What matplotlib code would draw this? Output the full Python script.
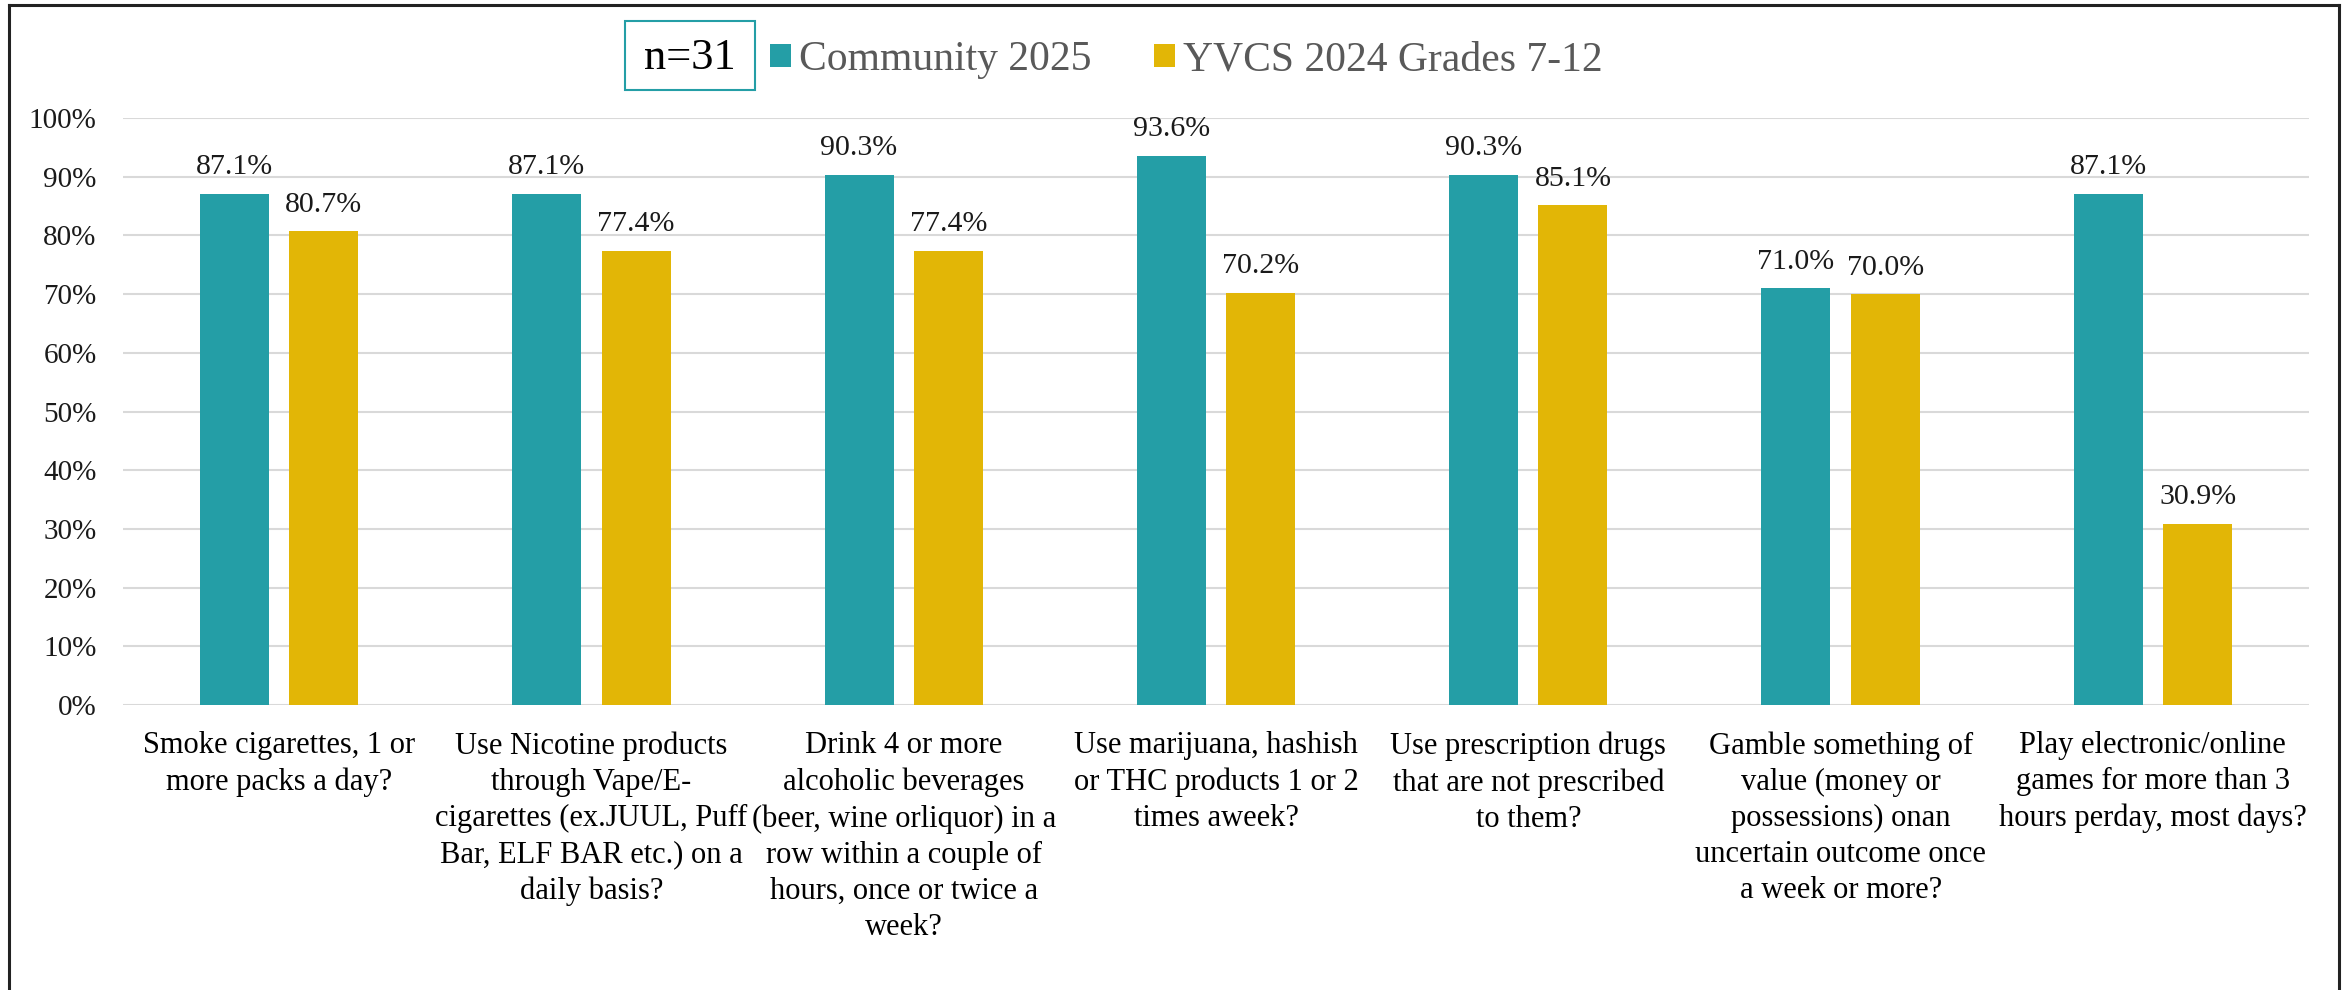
import matplotlib
matplotlib.use("Agg")
import matplotlib.pyplot as plt
from matplotlib.lines import Line2D
from matplotlib.patches import Rectangle
import numpy as np

plt.rcParams["font.family"] = ["Liberation Serif", "DejaVu Serif"]

# Share of respondents rating each behaviour as harmful
categories = [
    "Smoke cigarettes, 1 or\nmore packs a day?",
    "Use Nicotine products\nthrough Vape/E-\ncigarettes (ex.JUUL, Puff\nBar, ELF BAR etc.) on a\ndaily basis?",
    "Drink 4 or more\nalcoholic beverages\n(beer, wine orliquor) in a\nrow within a couple of\nhours, once or twice a\nweek?",
    "Use marijuana, hashish\nor THC products 1 or 2\ntimes aweek?",
    "Use prescription drugs\nthat are not prescribed\nto them?",
    "Gamble something of\nvalue (money or\npossessions) onan\nuncertain outcome once\na week or more?",
    "Play electronic/online\ngames for more than 3\nhours perday, most days?",
]
community_2025 = [87.1, 87.1, 90.3, 93.6, 90.3, 71.0, 87.1]
yvcs_2024 = [80.7, 77.4, 77.4, 70.2, 85.1, 70.0, 30.9]
series_names = ["Community 2025", "YVCS 2024 Grades 7-12"]
sample_label = "n=31"

TEAL = "#249EA6"
GOLD = "#E2B606"
GRID = "#D9D9D9"

W, H, DPI = 2346, 990, 100
fig = plt.figure(figsize=(W / DPI, H / DPI), dpi=DPI)
ax = fig.add_axes([123 / W, 1 - 705 / H, (2309 - 123) / W, (705 - 118) / H])

x = np.arange(len(categories))
bw = 0.221
off = 0.143
b1 = ax.bar(x - off, np.array(community_2025) / 100, bw, color=TEAL, label=series_names[0], zorder=3)
b2 = ax.bar(x + off, np.array(yvcs_2024) / 100, bw, color=GOLD, label=series_names[1], zorder=3)

for bars, vals in ((b1, community_2025), (b2, yvcs_2024)):
    for rect, v in zip(bars, vals):
        ax.annotate(f"{v:.1f}%", (rect.get_x() + rect.get_width() / 2, rect.get_height()),
                    xytext=(0, 14), textcoords="offset points", ha="center", va="baseline",
                    fontsize=21.5, color="#1a1a1a")

ax.set_xlim(-0.5, len(categories) - 0.5)
ax.set_ylim(0, 1)
ax.set_yticks(np.arange(0, 1.01, 0.1))
ax.set_yticklabels([f"{int(round(t * 100))}%" for t in np.arange(0, 1.01, 0.1)], fontsize=21, color="#1a1a1a")
ax.set_xticks(x)
ax.set_xticklabels(categories, fontsize=22, linespacing=1.32, color="black")
ax.tick_params(axis="y", length=0, pad=19)
ax.tick_params(axis="x", length=0, pad=19)
ax.grid(axis="y", color=GRID, linewidth=1.5, zorder=0)
for s in ax.spines.values():
    s.set_visible(False)

# legend row with sample size box
fig.legend(handles=[b1, b2], loc="center left", bbox_to_anchor=(770 / W, 1 - 60 / H),
           ncol=2, frameon=False, fontsize=30, labelcolor="#595959",
           handlelength=0.5, handleheight=0.5, handletextpad=0.2, columnspacing=1.5,
           borderpad=0, borderaxespad=0)
fig.add_artist(Rectangle((625 / W, 1 - 90 / H), 130 / W, 69 / H, transform=fig.transFigure,
                         fill=False, edgecolor=TEAL, linewidth=1.5))
fig.text(690 / W, 1 - 58 / H, sample_label, ha="center", va="center", fontsize=32, color="black")

# outer frame (open at the bottom)
lw = 2.2
fig.add_artist(Line2D([9 / W, 9 / W], [0, 1 - 5 / H], transform=fig.transFigure, color="#222222", lw=lw))
fig.add_artist(Line2D([9 / W, 2339 / W], [1 - 5 / H, 1 - 5 / H], transform=fig.transFigure, color="#222222", lw=lw))
fig.add_artist(Line2D([2339 / W, 2339 / W], [0, 1 - 5 / H], transform=fig.transFigure, color="#222222", lw=lw))

fig.savefig("out.png", dpi=DPI)
